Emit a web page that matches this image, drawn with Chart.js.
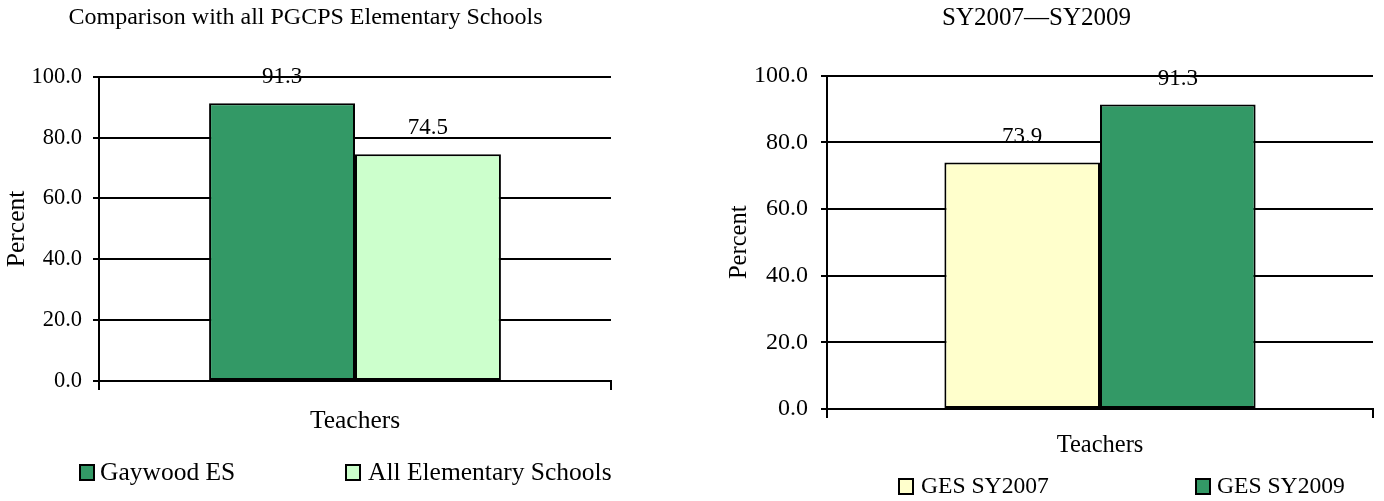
<!DOCTYPE html>
<html>
<head>
<meta charset="utf-8">
<script src="https://cdn.jsdelivr.net/npm/chart.js@4.4.1/dist/chart.umd.min.js"></script>
<style>
  html, body { margin: 0; padding: 0; background: #fff; overflow: hidden; }
  body { width: 1384px; height: 501px; position: relative; font-family: "Liberation Serif", "Times New Roman", serif; }
  canvas { position: absolute; top: 0; }
  #leftChart { left: 0; }
  #rightChart { left: 700px; }
  .legend { position: absolute; color: #000; white-space: nowrap; }
  .legend .box { position: absolute; top: 0; width: 12px; height: 13px; border: 2px solid #000; }
  .legend .txt { position: absolute; top: 0; line-height: 1; }
</style>
</head>
<body>
<canvas id="leftChart" width="650" height="501"></canvas>
<canvas id="rightChart" width="800" height="501"></canvas>
<div id="leftLegend" class="legend"></div>
<div id="rightLegend" class="legend"></div>
<script>
// ---------- data ----------
const categories = ['Teachers'];
const yTicks = [0, 20, 40, 60, 80, 100];

const leftTitle = 'Comparison with all PGCPS Elementary Schools';
const leftSeries = ['Gaywood ES', 'All Elementary Schools'];
const leftValues = [91.3, 74.5];
const leftColors = ['#339966', '#CCFFCC'];

const rightTitle = 'SY2007\u2014SY2009';
const rightSeries = ['GES SY2007', 'GES SY2009'];
const rightValues = [73.9, 91.3];
const rightColors = ['#FFFFCC', '#339966'];

const SERIF = '"Liberation Serif", "Times New Roman", serif';

// value labels above the bars
const valueLabels = {
  id: 'valueLabels',
  afterDatasetsDraw(chart, args, opts) {
    const ctx = chart.ctx;
    ctx.save();
    ctx.font = opts.size + 'px ' + SERIF;
    ctx.fillStyle = '#000';
    ctx.textAlign = 'center';
    ctx.textBaseline = 'middle';
    chart.data.datasets.forEach((ds, i) => {
      chart.getDatasetMeta(i).data.forEach((bar, j) => {
        ctx.fillText(ds.data[j].toFixed(1), bar.x, bar.y - opts.offset);
      });
    });
    ctx.restore();
  }
};

function makeChart(id, s) {
  return new Chart(document.getElementById(id), {
    type: 'bar',
    data: {
      labels: categories,
      datasets: s.series.map((name, i) => ({
        label: name,
        data: [s.values[i]],
        backgroundColor: s.colors[i],
        borderColor: '#000',
        borderWidth: 2,
        borderSkipped: false,
        categoryPercentage: 0.57,
        barPercentage: 1
      }))
    },
    options: {
      responsive: false,
      animation: false,
      layout: { padding: { left: 0, right: s.padRight, top: 0, bottom: s.padBottom } },
      plugins: {
        legend: { display: false },
        tooltip: { enabled: false },
        title: {
          display: true,
          text: s.title,
          color: '#000',
          font: { family: SERIF, size: s.titleSize, weight: 'normal' },
          padding: { top: s.titleTop, bottom: s.titleBottom }
        },
        valueLabels: { size: s.labelSize, offset: 26 }
      },
      scales: {
        x: {
          grid: { display: true, drawOnChartArea: false, color: '#000', lineWidth: 2, tickLength: 9 },
          border: { display: true, color: '#000', width: 2 },
          ticks: { display: false },
          title: {
            display: true, text: categories[0], color: '#000',
            font: { family: SERIF, size: s.axisSize }, padding: { top: 0, bottom: 0 }
          },
          afterFit(scale) { scale.height = s.xHeight; }
        },
        y: {
          min: 0,
          max: 100,
          afterBuildTicks(scale) { scale.ticks = yTicks.map(v => ({ value: v })); },
          grid: { color: '#000', lineWidth: 2, tickLength: 6 },
          border: { display: true, color: '#000', width: 2 },
          ticks: {
            color: '#000',
            padding: s.tickPad,
            font: { family: SERIF, size: s.tickSize },
            callback: v => Number(v).toFixed(1)
          },
          title: {
            display: true, text: 'Percent', color: '#000',
            font: { family: SERIF, size: s.axisSize }, padding: { top: s.yTitlePad, bottom: 0 }
          },
          afterFit(scale) { scale.width = s.yWidth; }
        }
      }
    },
    plugins: [valueLabels]
  });
}

makeChart('leftChart', {
  title: leftTitle, series: leftSeries, values: leftValues, colors: leftColors,
  titleSize: 24, titleTop: 3, titleBottom: 45,
  axisSize: 25.5, tickSize: 22.5, labelSize: 23, tickPad: 11,
  yWidth: 99, yTitlePad: 2.2, xHeight: 55.3,
  padRight: 39, padBottom: 64.7
});

makeChart('rightChart', {
  title: rightTitle, series: rightSeries, values: rightValues, colors: rightColors,
  titleSize: 25, titleTop: 3, titleBottom: 42.6,
  axisSize: 24.5, tickSize: 24, labelSize: 23, tickPad: 13,
  yWidth: 127, yTitlePad: 24.7, xHeight: 51.3,
  padRight: 127, padBottom: 40.7
});

// html legends
function buildLegend(id, names, colors, items, top, size) {
  const el = document.getElementById(id);
  el.style.top = top + 'px';
  el.style.left = '0px';
  names.forEach((name, i) => {
    const box = document.createElement('div');
    box.className = 'box';
    box.style.left = items[i][0] + 'px';
    box.style.top = (size * 0.5 - 8) + 'px';
    box.style.background = colors[i];
    const txt = document.createElement('div');
    txt.className = 'txt';
    txt.style.left = items[i][1] + 'px';
    txt.style.fontSize = size + 'px';
    txt.textContent = name;
    el.appendChild(box);
    el.appendChild(txt);
  });
}
buildLegend('leftLegend', leftSeries, leftColors, [[79, 100], [345, 368]], 459, 25.5);
buildLegend('rightLegend', rightSeries, rightColors, [[898, 921], [1195, 1217]], 474, 23.6);
</script>
</body>
</html>
